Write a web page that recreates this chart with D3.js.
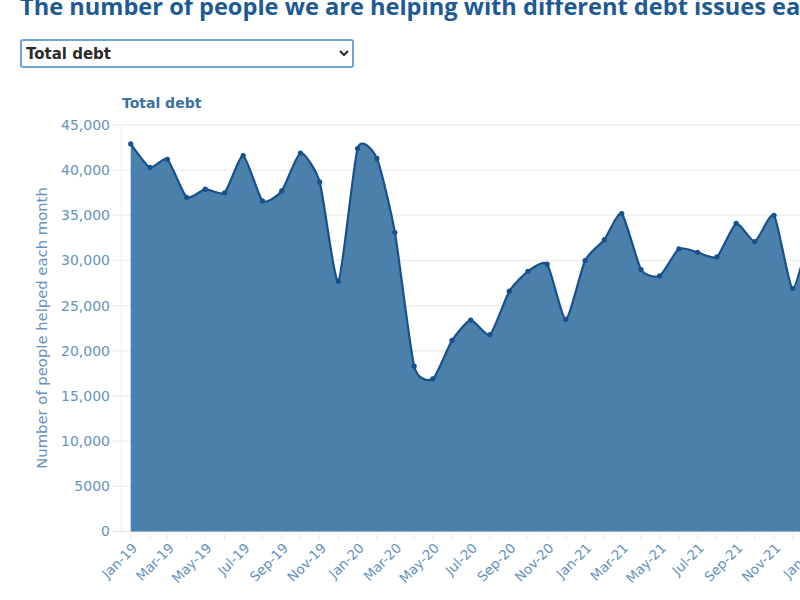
<!DOCTYPE html>
<html>
<head>
<meta charset="utf-8">
<script src="https://cdn.jsdelivr.net/npm/d3@7"></script>
<style>
  html, body { margin: 0; padding: 0; background: #fff; overflow: hidden; }
  body { width: 800px; height: 600px; position: relative; font-family: "Open Sans", sans-serif; }
  #pick {
    position: absolute; left: 20px; top: 39px; width: 334px; height: 29px;
    border: 2px solid #6ea3dc; border-radius: 3px; box-sizing: border-box;
    font-family: "DejaVu Sans", sans-serif; font-size: 15px; font-weight: 700; color: #2b2b2b;
    background: #fff; padding: 0;
  }
  svg { position: absolute; left: 0; top: 0; }
</style>
</head>
<body>
<svg id="chart" width="800" height="600"></svg>
<select id="pick"><option>Total debt</option></select>
<script>

// Monthly totals, Jan-19 to Jan-22
const months = ['2019-01','2019-02','2019-03','2019-04','2019-05','2019-06','2019-07','2019-08','2019-09','2019-10','2019-11','2019-12',
                '2020-01','2020-02','2020-03','2020-04','2020-05','2020-06','2020-07','2020-08','2020-09','2020-10','2020-11','2020-12',
                '2021-01','2021-02','2021-03','2021-04','2021-05','2021-06','2021-07','2021-08','2021-09','2021-10','2021-11','2021-12',
                '2022-01'];
const totalDebt = [42900, 40300, 41200, 37000, 37900, 37500, 41600, 36600, 37700, 41900, 38700, 27700,
                   42400, 41300, 33100, 18300, 16900, 21150, 23400, 21800, 26600, 28800, 29600, 23500,
                   30000, 32300, 35200, 29000, 28300, 31300, 30900, 30400, 34100, 32100, 35000, 26900,
                   34000];
const yTicks = [0, 5000, 10000, 15000, 20000, 25000, 30000, 35000, 40000, 45000];
const yTickLabels = ['0', '5000', '10,000', '15,000', '20,000', '25,000', '30,000', '35,000', '40,000', '45,000'];
const xTickMonths = ['2019-01','2019-03','2019-05','2019-07','2019-09','2019-11','2020-01','2020-03','2020-05','2020-07','2020-09','2020-11',
                     '2021-01','2021-03','2021-05','2021-07','2021-09','2021-11','2022-01'];

const parse = d3.timeParse('%Y-%m');
const data = months.map((m, i) => ({ date: parse(m), value: totalDebt[i] }));

const svg = d3.select('#chart');
const axisFont = '"DejaVu Sans", sans-serif';

// Title (runs past the right edge, as on the page)
svg.append('text')
    .attr('x', 20).attr('y', 15)
    .attr('font-size', 23.6).attr('font-weight', 700)
    .attr('fill', '#1d5a94')
    .text('The number of people we are helping with different debt issues each month');

const plotLeft = 121, plotBottom = 531.5, plotTop = 125;

const x = d3.scaleTime()
    .domain([parse('2019-01'), parse('2022-01')])
    .range([130.7, 130.7 + 1096 * 0.6216]);

const y = d3.scaleLinear()
    .domain([0, 45000])
    .range([plotBottom, plotTop]);

// Gridlines
svg.append('g')
  .selectAll('line')
  .data(yTicks)
  .enter().append('line')
    .attr('x1', 113).attr('x2', 800)
    .attr('y1', d => y(d)).attr('y2', d => y(d))
    .attr('stroke', d => d === 0 ? '#e6e6e6' : '#efefef')
    .attr('stroke-width', 1.5);

// Left axis line
svg.append('line')
    .attr('x1', plotLeft).attr('x2', plotLeft)
    .attr('y1', plotTop).attr('y2', plotBottom)
    .attr('stroke', '#eeeeee').attr('stroke-width', 1);

// Y tick labels
svg.append('g')
  .selectAll('text')
  .data(yTicks)
  .enter().append('text')
    .attr('x', 110).attr('y', d => y(d))
    .attr('dy', '0.35em')
    .attr('text-anchor', 'end')
    .attr('font-family', axisFont)
    .attr('font-size', 14)
    .attr('fill', '#6592be')
    .text((d, i) => yTickLabels[i]);

// Y axis title
svg.append('text')
    .attr('transform', 'translate(42,' + 328 + ') rotate(-90)')
    .attr('text-anchor', 'middle')
    .attr('dy', '0.35em')
    .attr('font-family', axisFont)
    .attr('font-size', 14.8)
    .attr('fill', '#6592be')
    .text('Number of people helped each month');

// Series label
svg.append('text')
    .attr('x', 122).attr('y', 108)
    .attr('font-family', axisFont)
    .attr('font-size', 14).attr('font-weight', 700)
    .attr('fill', '#3a6f9f')
    .text('Total debt');

// Area + line
const curve = d3.curveCardinal.tension(0.4);
const area = d3.area()
    .x(d => x(d.date))
    .y0(y(0))
    .y1(d => y(d.value))
    .curve(curve);
const line = d3.line()
    .x(d => x(d.date))
    .y(d => y(d.value))
    .curve(curve);

svg.append('path')
    .datum(data)
    .attr('d', area)
    .attr('fill', '#4b80ab');

svg.append('path')
    .datum(data)
    .attr('d', line)
    .attr('fill', 'none')
    .attr('stroke', '#17508a')
    .attr('stroke-width', 2.2);

svg.append('g')
  .selectAll('circle')
  .data(data)
  .enter().append('circle')
    .attr('cx', d => x(d.date))
    .attr('cy', d => y(d.value))
    .attr('r', 2.6)
    .attr('fill', '#17508a');

// X axis ticks (monthly) and labels (every two months)
svg.append('g')
  .selectAll('line')
  .data(months)
  .enter().append('line')
    .attr('x1', d => x(parse(d))).attr('x2', d => x(parse(d)))
    .attr('y1', plotBottom + 3).attr('y2', plotBottom + 7)
    .attr('stroke', '#e2e2e2');

svg.append('g')
  .selectAll('text')
  .data(xTickMonths)
  .enter().append('text')
    .attr('transform', d => 'translate(' + (x(parse(d)) + 4) + ',' + (plotBottom + 14) + ') rotate(-45)')
    .attr('text-anchor', 'end')
    .attr('dy', '0.35em')
    .attr('font-family', axisFont)
    .attr('font-size', 13.5)
    .attr('fill', '#6592be')
    .text(d => d3.timeFormat('%b-%y')(parse(d)));

</script>
</body>
</html>
